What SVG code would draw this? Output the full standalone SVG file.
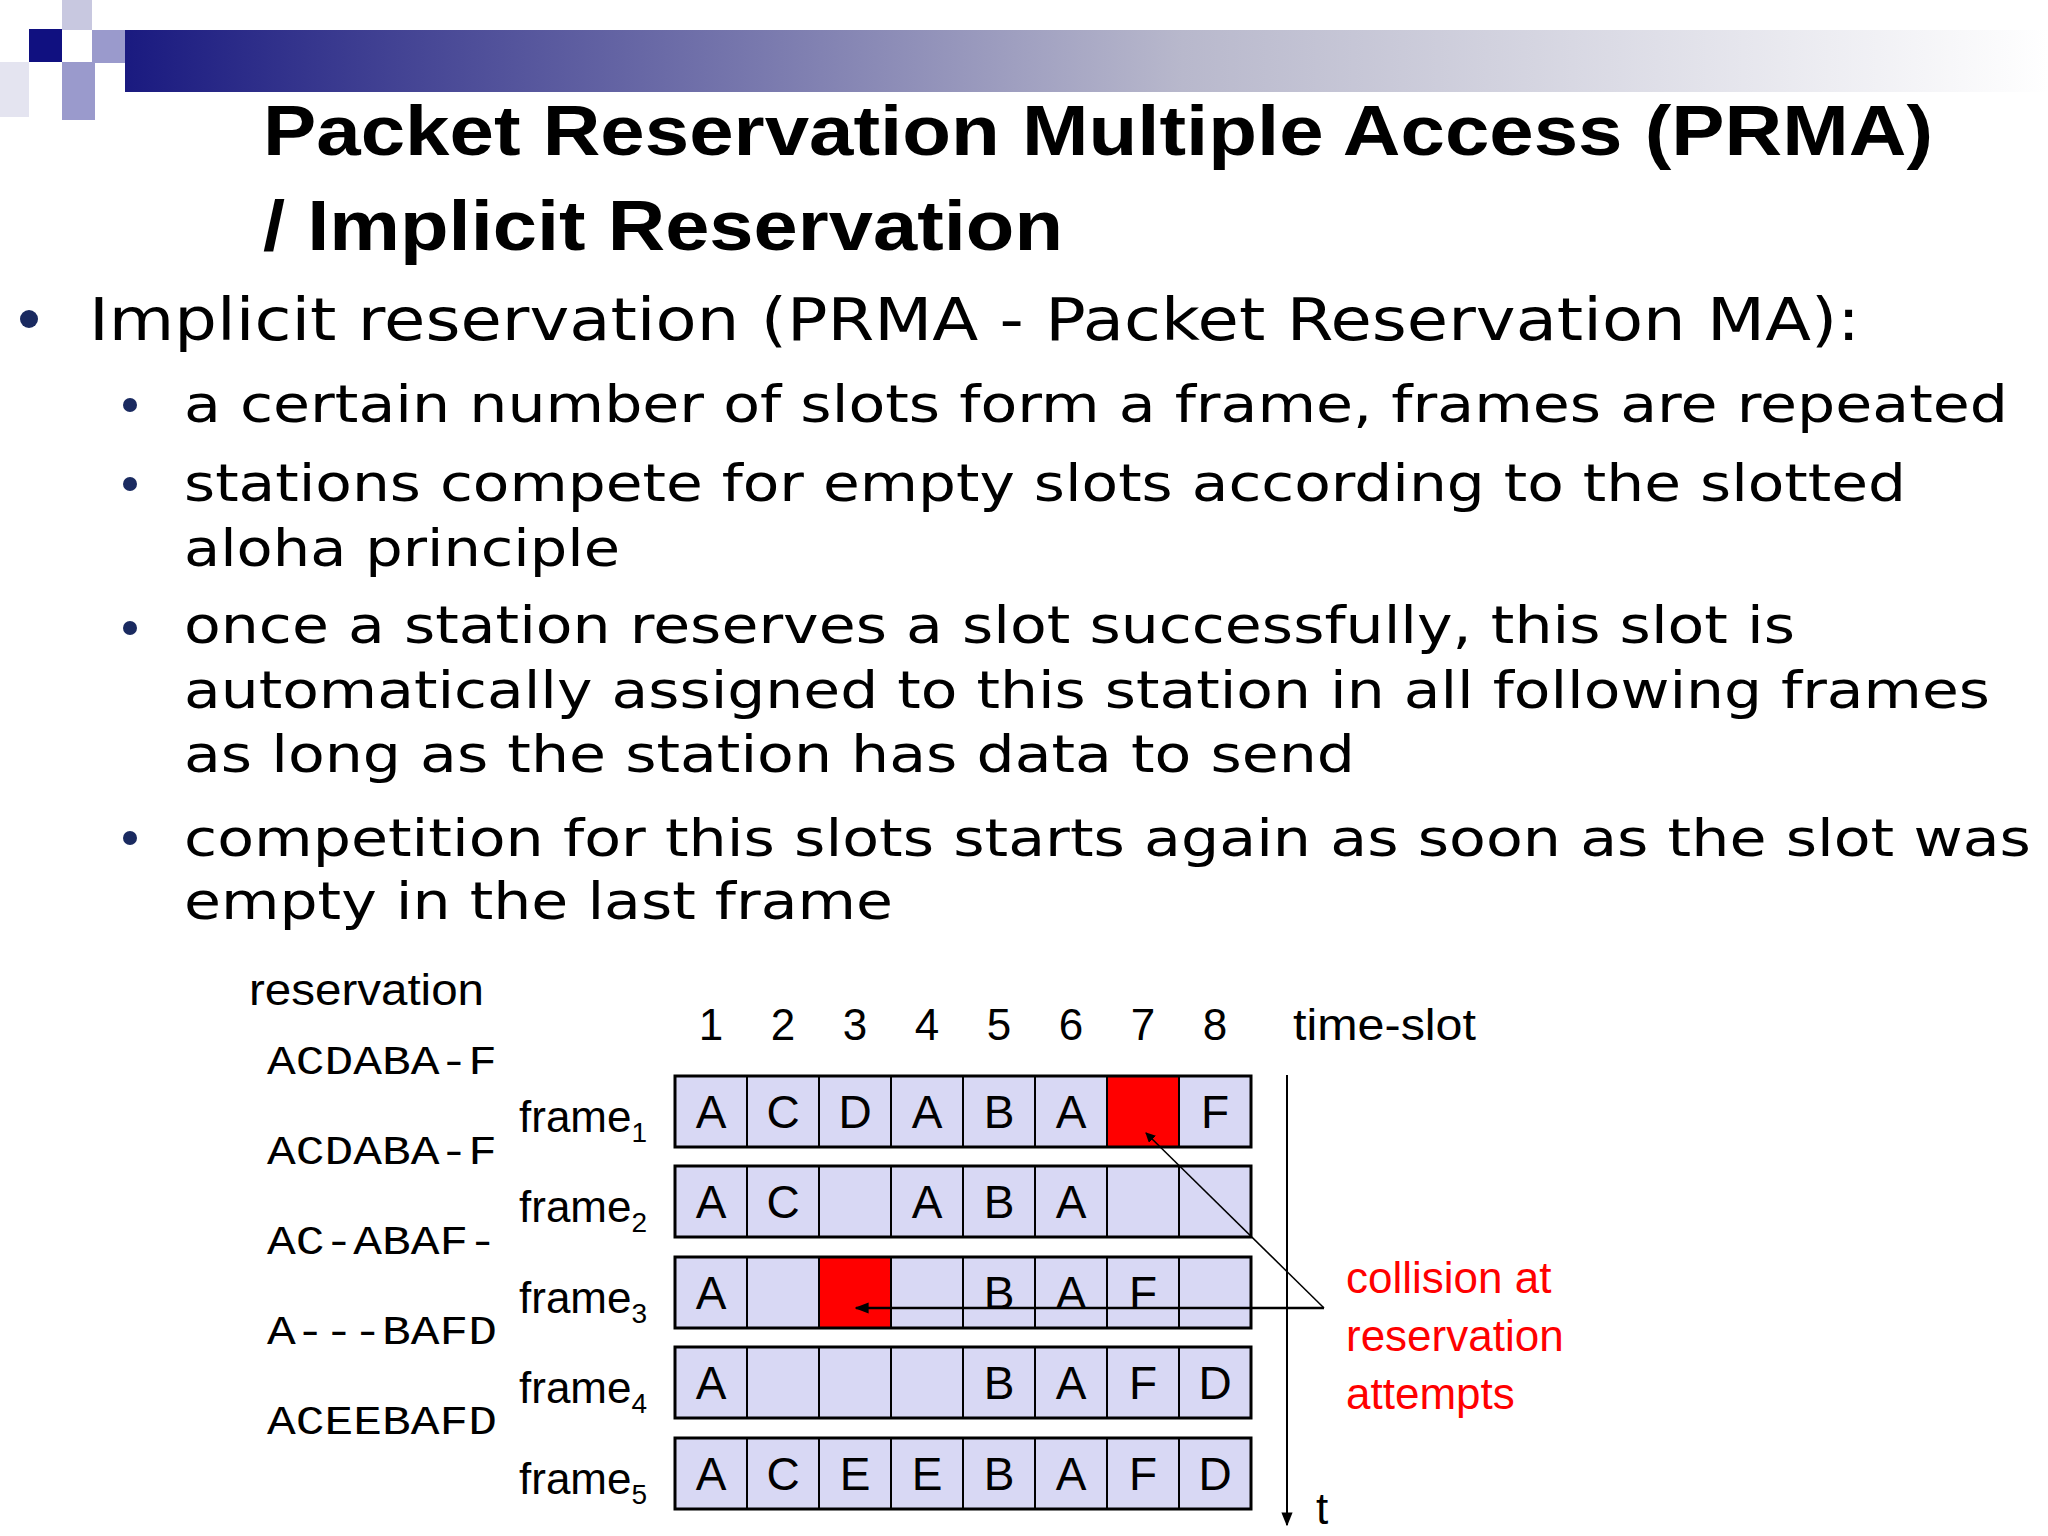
<svg xmlns="http://www.w3.org/2000/svg" width="2048" height="1536" viewBox="0 0 2048 1536">
<defs>
<linearGradient id="g" x1="0" x2="1" y1="0" y2="0">
<stop offset="0" stop-color="#1a1a80"/><stop offset="0.55" stop-color="#b8b8cc"/><stop offset="1" stop-color="#ffffff"/>
</linearGradient>
<marker id="ah" viewBox="0 0 10 10" refX="9" refY="5" markerWidth="10" markerHeight="10" orient="auto" markerUnits="userSpaceOnUse"><path d="M0,0 L10,5 L0,10 z" fill="#000"/></marker>
<marker id="ah2" viewBox="0 0 10 10" refX="9" refY="5" markerWidth="14" markerHeight="14" orient="auto" markerUnits="userSpaceOnUse"><path d="M0,1 L10,5 L0,9 z" fill="#000"/></marker>
</defs>
<style>
.cell{fill:#d8d8f4;stroke:#000;stroke-width:2}
.red{fill:#ff0000}
.row{fill:none;stroke:#000;stroke-width:3}
.l{font-family:"Liberation Sans",Arial,sans-serif;font-size:46px;text-anchor:middle;fill:#000}
.hd{font-family:"Liberation Sans",Arial,sans-serif;font-size:44px;fill:#000}
.mono{font-family:"Liberation Mono","Courier New",monospace;font-size:40px;fill:#000}
.body{font-family:"DejaVu Sans",Verdana,sans-serif;fill:#000}
.red-t{font-family:"Liberation Sans",Arial,sans-serif;font-size:44px;fill:#ff0000}
</style>
<rect width="2048" height="1536" fill="#fff"/>
<g id="decor">
<rect x="125" y="30" width="1923" height="62" fill="url(#g)"/>
<rect x="62" y="0" width="30" height="30" fill="#c8c8e0"/>
<rect x="92" y="30" width="33" height="33" fill="#9a9acc"/>
<rect x="29" y="29" width="33" height="33" fill="#101080"/>
<rect x="62" y="62" width="33" height="58" fill="#9a9acc"/>
<rect x="0" y="62" width="29" height="55" fill="#e4e4f0"/>
</g>
<g id="title" font-family="Liberation Sans,Arial,sans-serif" font-weight="bold" font-size="70">
<text x="263" y="155" textLength="1670" lengthAdjust="spacingAndGlyphs">Packet Reservation Multiple Access (PRMA)</text>
<text x="263" y="250" textLength="800" lengthAdjust="spacingAndGlyphs">/ Implicit Reservation</text>
</g>
<g id="bullets">
<circle cx="29" cy="319" r="9" fill="#1a2a60"/>
<text class="body" x="89" y="340" font-size="58" textLength="1771" lengthAdjust="spacingAndGlyphs">Implicit reservation (PRMA - Packet Reservation MA):</text>
<g fill="#1a2a60"><circle cx="130" cy="405" r="7"/><circle cx="130" cy="484" r="7"/><circle cx="130" cy="628" r="7"/><circle cx="130" cy="838" r="7"/></g>
<g class="body" font-size="52">
<text x="184" y="422" textLength="1824" lengthAdjust="spacingAndGlyphs">a certain number of slots form a frame, frames are repeated</text>
<text x="184" y="501" textLength="1722" lengthAdjust="spacingAndGlyphs">stations compete for empty slots according to the slotted</text>
<text x="184" y="566" textLength="436" lengthAdjust="spacingAndGlyphs">aloha principle</text>
<text x="184" y="643" textLength="1611" lengthAdjust="spacingAndGlyphs">once a station reserves a slot successfully, this slot is</text>
<text x="184" y="708" textLength="1806" lengthAdjust="spacingAndGlyphs">automatically assigned to this station in all following frames</text>
<text x="184" y="772" textLength="1171" lengthAdjust="spacingAndGlyphs">as long as the station has data to send</text>
<text x="184" y="856" textLength="1847" lengthAdjust="spacingAndGlyphs">competition for this slots starts again as soon as the slot was</text>
<text x="184" y="919" textLength="709" lengthAdjust="spacingAndGlyphs">empty in the last frame</text>
</g>
</g>
<g id="labels">
<text class="hd" x="249" y="1005" textLength="235" lengthAdjust="spacingAndGlyphs">reservation</text>
<g class="hd" text-anchor="middle">
<text x="711" y="1040">1</text><text x="783" y="1040">2</text><text x="855" y="1040">3</text><text x="927" y="1040">4</text><text x="999" y="1040">5</text><text x="1071" y="1040">6</text><text x="1143" y="1040">7</text><text x="1215" y="1040">8</text>
</g>
<text class="hd" x="1293" y="1040" textLength="183" lengthAdjust="spacingAndGlyphs">time-slot</text>
<g class="mono">
<text x="267" y="1074" textLength="230" lengthAdjust="spacingAndGlyphs">ACDABA-F</text>
<text x="267" y="1164" textLength="230" lengthAdjust="spacingAndGlyphs">ACDABA-F</text>
<text x="267" y="1254" textLength="230" lengthAdjust="spacingAndGlyphs">AC-ABAF-</text>
<text x="267" y="1344" textLength="230" lengthAdjust="spacingAndGlyphs">A---BAFD</text>
<text x="267" y="1434" textLength="230" lengthAdjust="spacingAndGlyphs">ACEEBAFD</text>
</g>
<g class="hd">
<text x="519" y="1132">frame<tspan font-size="28" dy="10">1</tspan></text>
<text x="519" y="1222">frame<tspan font-size="28" dy="10">2</tspan></text>
<text x="519" y="1313">frame<tspan font-size="28" dy="10">3</tspan></text>
<text x="519" y="1403">frame<tspan font-size="28" dy="10">4</tspan></text>
<text x="519" y="1494">frame<tspan font-size="28" dy="10">5</tspan></text>
</g>
</g>
<g id="frames">
<g id="f1" transform="translate(675,1076)">
<rect class="cell" x="0" y="0" width="72" height="71"/><rect class="cell" x="72" y="0" width="72" height="71"/><rect class="cell" x="144" y="0" width="72" height="71"/><rect class="cell" x="216" y="0" width="72" height="71"/><rect class="cell" x="288" y="0" width="72" height="71"/><rect class="cell" x="360" y="0" width="72" height="71"/><rect class="cell red" x="432" y="0" width="72" height="71"/><rect class="cell" x="504" y="0" width="72" height="71"/>
<rect class="row" x="0" y="0" width="576" height="71"/>
<g class="l"><text x="36" y="52">A</text><text x="108" y="52">C</text><text x="180" y="52">D</text><text x="252" y="52">A</text><text x="324" y="52">B</text><text x="396" y="52">A</text><text x="540" y="52">F</text></g>
</g>
<g id="f2" transform="translate(675,1166)">
<rect class="cell" x="0" y="0" width="72" height="71"/><rect class="cell" x="72" y="0" width="72" height="71"/><rect class="cell" x="144" y="0" width="72" height="71"/><rect class="cell" x="216" y="0" width="72" height="71"/><rect class="cell" x="288" y="0" width="72" height="71"/><rect class="cell" x="360" y="0" width="72" height="71"/><rect class="cell" x="432" y="0" width="72" height="71"/><rect class="cell" x="504" y="0" width="72" height="71"/>
<rect class="row" x="0" y="0" width="576" height="71"/>
<g class="l"><text x="36" y="52">A</text><text x="108" y="52">C</text><text x="252" y="52">A</text><text x="324" y="52">B</text><text x="396" y="52">A</text></g>
</g>
<g id="f3" transform="translate(675,1257)">
<rect class="cell" x="0" y="0" width="72" height="71"/><rect class="cell" x="72" y="0" width="72" height="71"/><rect class="cell red" x="144" y="0" width="72" height="71"/><rect class="cell" x="216" y="0" width="72" height="71"/><rect class="cell" x="288" y="0" width="72" height="71"/><rect class="cell" x="360" y="0" width="72" height="71"/><rect class="cell" x="432" y="0" width="72" height="71"/><rect class="cell" x="504" y="0" width="72" height="71"/>
<rect class="row" x="0" y="0" width="576" height="71"/>
<g class="l"><text x="36" y="52">A</text><text x="324" y="52">B</text><text x="396" y="52">A</text><text x="468" y="52">F</text></g>
</g>
<g id="f4" transform="translate(675,1347)">
<rect class="cell" x="0" y="0" width="72" height="71"/><rect class="cell" x="72" y="0" width="72" height="71"/><rect class="cell" x="144" y="0" width="72" height="71"/><rect class="cell" x="216" y="0" width="72" height="71"/><rect class="cell" x="288" y="0" width="72" height="71"/><rect class="cell" x="360" y="0" width="72" height="71"/><rect class="cell" x="432" y="0" width="72" height="71"/><rect class="cell" x="504" y="0" width="72" height="71"/>
<rect class="row" x="0" y="0" width="576" height="71"/>
<g class="l"><text x="36" y="52">A</text><text x="324" y="52">B</text><text x="396" y="52">A</text><text x="468" y="52">F</text><text x="540" y="52">D</text></g>
</g>
<g id="f5" transform="translate(675,1438)">
<rect class="cell" x="0" y="0" width="72" height="71"/><rect class="cell" x="72" y="0" width="72" height="71"/><rect class="cell" x="144" y="0" width="72" height="71"/><rect class="cell" x="216" y="0" width="72" height="71"/><rect class="cell" x="288" y="0" width="72" height="71"/><rect class="cell" x="360" y="0" width="72" height="71"/><rect class="cell" x="432" y="0" width="72" height="71"/><rect class="cell" x="504" y="0" width="72" height="71"/>
<rect class="row" x="0" y="0" width="576" height="71"/>
<g class="l"><text x="36" y="52">A</text><text x="108" y="52">C</text><text x="180" y="52">E</text><text x="252" y="52">E</text><text x="324" y="52">B</text><text x="396" y="52">A</text><text x="468" y="52">F</text><text x="540" y="52">D</text></g>
</g>
</g>
<g id="connectors" fill="none" stroke="#000">
<line x1="1287" y1="1075" x2="1287" y2="1525" stroke-width="2" marker-end="url(#ah2)"/>
<line x1="1324" y1="1308" x2="1146" y2="1133" stroke-width="1.5" marker-end="url(#ah)"/>
<line x1="1324" y1="1308" x2="856" y2="1308" stroke-width="2.5" marker-end="url(#ah2)"/>
</g>
<text class="hd" x="1316" y="1524">t</text>
<g id="note" class="red-t">
<text x="1346" y="1293">collision at</text>
<text x="1346" y="1351">reservation</text>
<text x="1346" y="1409">attempts</text>
</g>
</svg>
